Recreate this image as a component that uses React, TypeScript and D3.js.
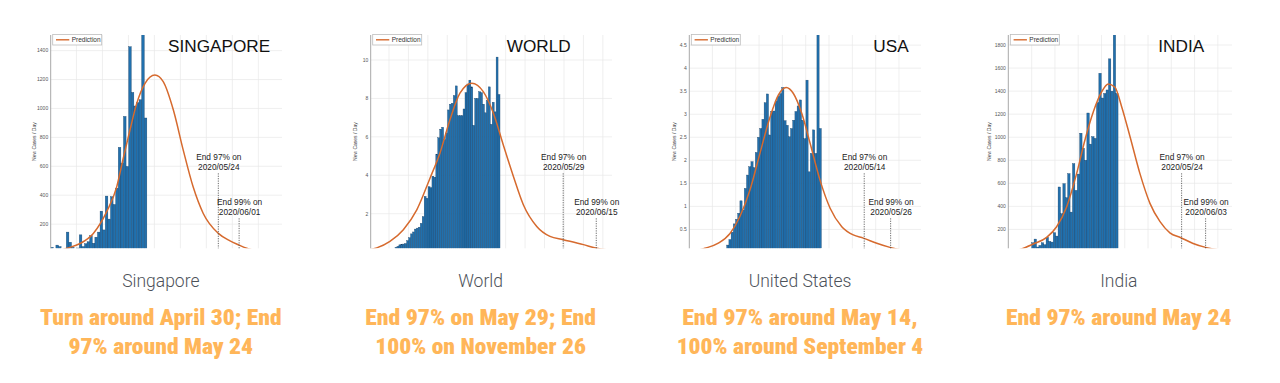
import React from "react";
import * as d3 from "d3";

// ---------- DATA ----------
// Singapore
const sgBars = [40, 0, 55, 45, 0, 0, 145, 75, 40, 0, 35, 126, 45, 65, 78, 120, 68, 110, 145, 290, 160, 394, 235, 390, 336, 449, 731, 622, 945, 599, 1427, 1111, 1017, 1040, 1060, 1600, 934];
const sgBarStart = 0;
const sgXDomain = [-0.5, 88.5];
const sgYDomain = [33, 1508];
const sgYTicks = [200, 400, 600, 800, 1000, 1200, 1400];
const sgCurve: [number, number][] = [[2, 12], [5.7, 33], [10.8, 66], [15.9, 136], [21, 285], [24.9, 458], [27.4, 655], [30, 851], [32.6, 1035], [35.8, 1174], [39.6, 1231], [42.8, 1185], [46.7, 989], [50.5, 712], [54.3, 458], [58.2, 274], [64, 136], [68.5, 84], [72, 55], [74.9, 33], [80, 12]];
const sgEnd = { d97: 64, date97: "2020/05/24", d99: 72, date99: "2020/06/01" };

// World
const wBars = [0.25, 0.3, 0.38, 0.4, 0.42, 0.45, 0.6, 0.75, 0.95, 1.05, 1.2, 1.25, 1.3, 1.5, 1.85, 2.9, 2.8, 3.4, 3.35, 3.95, 3.9, 5.1, 5.95, 6.4, 6.5, 5.85, 6.2, 7.4, 7.7, 7.75, 8.15, 8.65, 7.1, 7.1, 7.1, 7.45, 8.3, 8.75, 8.95, 8.6, 6.6, 8.0, 8.0, 8.35, 8.3, 7.7, 7.25, 7.9, 8.6, 6.65, 7.8, 7.3, 10.15, 8.2];
const wBarStart = 13;
const wXDomain = [0, 124.1];
const wYDomain = [0.2, 11.3];
const wYTicks = [2, 4, 6, 8, 10];
const wCurve: [number, number][] = [[-3, 0.08], [3.1, 0.22], [9.9, 0.56], [16.8, 1.17], [23.7, 2.2], [30.5, 3.85], [35.6, 5.15], [40.8, 6.9], [45.9, 8.27], [52, 8.79], [57.9, 8.35], [63.1, 7.23], [68.2, 5.58], [73.4, 3.94], [78.5, 2.47], [85.4, 1.34], [92.2, 0.82], [99, 0.65], [109.4, 0.39], [115.7, 0.22], [123, 0.1], [128, 0.05]];
const wEnd = { d97: 99, date97: "2020/05/29", d99: 116, date99: "2020/06/15" };

// USA
const usBars = [0.16, 0.28, 0.44, 0.62, 0.72, 0.85, 1.12, 0.92, 1.39, 1.68, 1.86, 1.97, 1.84, 2.17, 2.5, 2.69, 2.89, 3.25, 3.44, 2.55, 3.06, 3.07, 3.29, 3.39, 3.45, 3.58, 2.86, 2.76, 2.51, 2.69, 2.87, 3.06, 3.18, 3.31, 2.87, 2.47, 3.74, 1.75, 2.15, 2.66, 2.15, 4.9, 2.69];
const usBarStart = 18;
const usXDomain = [0.5, 105.8];
const usYDomain = [0.09, 4.72];
const usYTicks = [0.5, 1, 1.5, 2, 2.5, 3, 3.5, 4, 4.5];
const usCurve: [number, number][] = [[3, 0.03], [7.6, 0.09], [13.7, 0.2], [19, 0.41], [23.5, 0.78], [28.1, 1.36], [32.6, 2.15], [37.2, 2.94], [41, 3.42], [44.5, 3.58], [47.8, 3.45], [51.6, 3.02], [55.4, 2.37], [59.9, 1.57], [64.5, 0.96], [69.8, 0.56], [75, 0.38], [79.6, 0.31], [85.7, 0.2], [91.7, 0.11], [98, 0.04]];
const usEnd = { d97: 80, date97: "2020/05/14", d99: 92, date99: "2020/05/26" };

// India
const inBars = [84, 116, 47, 61, 84, 67, 133, 96, 90, 171, 142, 568, 336, 597, 475, 684, 350, 771, 539, 680, 1035, 905, 800, 1210, 940, 1005, 990, 1300, 1555, 1340, 1380, 1410, 1680, 1400, 1950, 1380];
const inBarStart = 10;
const inXDomain = [-0.25, 93];
const inYDomain = [36, 1887];
const inYTicks = [200, 400, 600, 800, 1000, 1200, 1400, 1600, 1800];
const inCurve: [number, number][] = [[0, 10], [4.6, 26], [10.2, 73], [15.75, 131], [19.9, 223], [24.1, 397], [28.25, 686], [31.7, 976], [35.2, 1221], [38.7, 1395], [41.4, 1462], [44.2, 1433], [47, 1265], [50.5, 1004], [54.6, 686], [58.8, 426], [63, 267], [67.1, 170], [71.7, 128], [76.8, 78], [82, 44], [86.6, 26], [92, 12]];
const inEnd = { d97: 72, date97: "2020/05/24", d99: 82, date99: "2020/06/03" };

const titles = ["SINGAPORE", "WORLD", "USA", "INDIA"];
const names = ["Singapore", "World", "United States", "India"];
const summaries = [
  ["Turn around April 30; End", "97% around May 24"],
  ["End 97% on May 29; End", "100% on November 26"],
  ["End 97% around May 14,", "100% around September 4"],
  ["End 97% around May 24"],
];

// ---------- LAYOUT ----------
const TOP = 35;
const BOTTOM = 248.3;
const layouts = [
  { left: 50.7, right: 282, titleX: 168, center: 160.8, labOff: 14.7, grid: d3.range(9.4, 88, 10), sumW: [241.7, 184.7] },
  { left: 370.7, right: 612, titleX: 506.7, center: 480.6, labOff: 13.4, grid: d3.range(9.4, 124, 10), sumW: [230.7, 210.7] },
  { left: 689.3, right: 921, titleX: 873.3, center: 800, labOff: 13.3, grid: d3.range(11, 105, 10.6), sumW: [235.7, 246.7] },
  { left: 1008.3, right: 1232, titleX: 1158.3, center: 1118.8, labOff: 17.6, grid: d3.range(9.5, 93, 9.7), sumW: [225.7] },
];

const panelData = [
  { id: "sg", bars: sgBars, start: sgBarStart, xd: sgXDomain, yd: sgYDomain, yt: sgYTicks, curve: sgCurve, end: sgEnd },
  { id: "w", bars: wBars, start: wBarStart, xd: wXDomain, yd: wYDomain, yt: wYTicks, curve: wCurve, end: wEnd },
  { id: "us", bars: usBars, start: usBarStart, xd: usXDomain, yd: usYDomain, yt: usYTicks, curve: usCurve, end: usEnd },
  { id: "in", bars: inBars, start: inBarStart, xd: inXDomain, yd: inYDomain, yt: inYTicks, curve: inCurve, end: inEnd },
];

const CHART_FONT = "'Liberation Sans', Arial, sans-serif";
const BAR_FILL = "#2170ad";
const BAR_EDGE = "#163f66";
const CURVE = "#d66a2e";
const ORANGE = "#ffb659";

function Panel({ idx }: { idx: number }) {
  const p = panelData[idx];
  const L = layouts[idx];
  const x = d3.scaleLinear().domain(p.xd).range([L.left, L.right]);
  const y = d3.scaleLinear().domain(p.yd).range([BOTTOM, TOP]);
  const bw = x(1) - x(0);
  const line = d3
    .line<[number, number]>()
    .x((d) => x(d[0]))
    .y((d) => y(d[1]))
    .curve(d3.curveMonotoneX);
  const clipId = `clip-${p.id}`;
  const fmt = (v: number) => String(v);
  const x97 = x(p.end.d97);
  const x99 = x(p.end.d99);
  const ann = (cx: number, yTop: number, l1: string, l2: string) => (
    <g>
      <text x={cx + 0.5} y={yTop - 13.7} textAnchor="middle" fontSize={8.3} fill="#222" fontFamily={CHART_FONT}>{l1}</text>
      <text x={cx + 0.5} y={yTop - 3.7} textAnchor="middle" fontSize={8.3} fill="#222" fontFamily={CHART_FONT}>{l2}</text>
      <line x1={cx} x2={cx} y1={yTop} y2={BOTTOM} stroke="#444" strokeWidth={0.8} strokeDasharray="1.2 1.2" />
    </g>
  );
  return (
    <g>
      <defs>
        <clipPath id={clipId}>
          <rect x={L.left} y={TOP} width={L.right - L.left} height={BOTTOM - TOP} />
        </clipPath>
      </defs>
      {/* grid */}
      {L.grid.map((g, i) => (
        <line key={"gx" + i} x1={x(g)} x2={x(g)} y1={TOP} y2={BOTTOM} stroke="#e8e8e8" strokeWidth={0.7} />
      ))}
      {p.yt.map((t, i) => (
        <line key={"gy" + i} x1={L.left} x2={L.right} y1={y(t)} y2={y(t)} stroke="#e8e8e8" strokeWidth={0.7} />
      ))}
      {/* bars */}
      <g clipPath={`url(#${clipId})`}>
        {p.bars.map((v, i) => {
          const top = y(v);
          const h = BOTTOM - top;
          if (h <= 0) return null;
          return (
            <rect key={i} x={x(p.start + i - 0.5)} y={top} width={bw} height={h} fill={BAR_FILL} stroke={BAR_EDGE} strokeWidth={0.35} />
          );
        })}
        <path d={line(p.curve) || ""} fill="none" stroke={CURVE} strokeWidth={1.5} />
      </g>
      {/* y axis */}
      <line x1={L.left} x2={L.left} y1={TOP} y2={BOTTOM} stroke="#a8a8a8" strokeWidth={1} />
      {p.yt.map((t, i) => (
        <text key={"yt" + i} x={L.left - 2.5} y={y(t) + 1.8} textAnchor="end" fontSize={5} fill="#555" fontFamily={CHART_FONT}>
          {fmt(t)}
        </text>
      ))}
      <text
        transform={`translate(${L.left - L.labOff},${(TOP + BOTTOM) / 2}) rotate(-90)`}
        textAnchor="middle"
        fontSize={5}
        fill="#444"
        fontFamily={CHART_FONT}
      >
        New Cases / Day
      </text>
      {/* legend */}
      <rect x={L.left + 2} y={34.5} width={49} height={10.5} fill="#fff" stroke="#bdbdbd" strokeWidth={0.8} />
      <line x1={L.left + 5.3} x2={L.left + 18.6} y1={39.8} y2={39.8} stroke={CURVE} strokeWidth={1.4} />
      <text x={L.left + 21} y={42.1} fontSize={6.5} fill="#333" fontFamily={CHART_FONT}>Prediction</text>
      {/* title */}
      <text x={L.titleX} y={52} fontSize={17.2} fill="#111" fontFamily={CHART_FONT}>{titles[idx]}</text>
      {/* annotations */}
      {ann(x97, 173.3, "End 97% on", p.end.date97)}
      {ann(x99, 218.3, "End 99% on", p.end.date99)}
      {/* captions */}
      <text x={L.center} y={287.3} textAnchor="middle" fontSize={17.5} fontWeight={300} fill="#4d525a" fontFamily="Roboto, sans-serif">
        {names[idx]}
      </text>
      {summaries[idx].map((s, i) => (
        <text
          key={"s" + i}
          x={L.center}
          y={324.5 + i * 29.3}
          textAnchor="middle"
          fontSize={21.5}
          fontWeight={900}
          fill={ORANGE}
          fontFamily="'Roboto Condensed', Roboto, sans-serif"
          textLength={L.sumW[i]}
          lengthAdjust="spacingAndGlyphs"
        >
          {s}
        </text>
      ))}
    </g>
  );
}

export default function App() {
  return (
    <svg
      width={1280}
      height={383}
      viewBox="0 0 1280 383"
      style={{ position: "absolute", left: 0, top: 0, background: "#fff" }}
    >
      <rect x={0} y={0} width={1280} height={383} fill="#fff" />
      {panelData.map((_, i) => (
        <Panel key={i} idx={i} />
      ))}
    </svg>
  );
}
